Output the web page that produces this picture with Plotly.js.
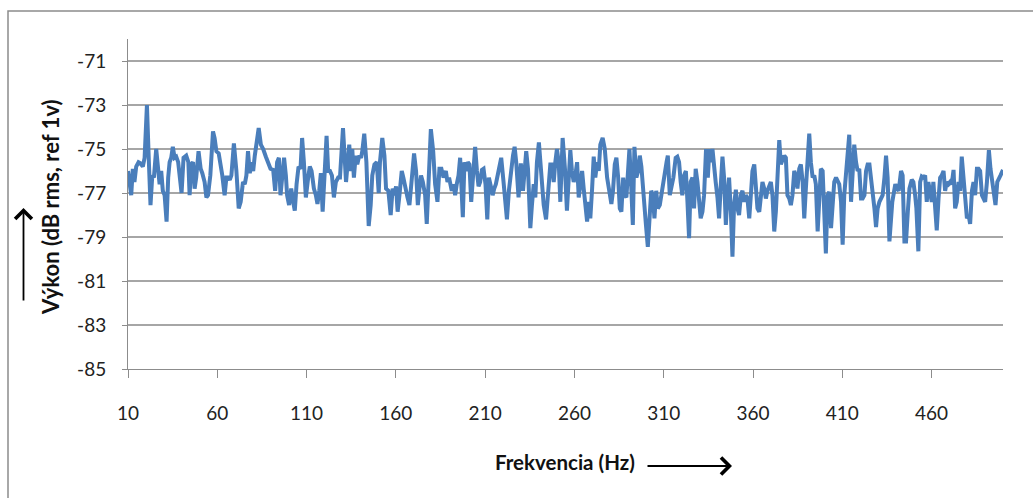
<!DOCTYPE html>
<html>
<head>
<meta charset="utf-8">
<script src="https://cdn.plot.ly/plotly-3.0.1.min.js"></script>
<style>html,body{margin:0;padding:0;background:#fff;}#chart{width:1033px;height:498px;}</style>
</head>
<body>
<div id="chart"></div>
<script>
// Frequency (Hz) of each read sample
const freq = [
10,11.8,12.7,13.6,14.6,15.9,17.0,18.3,19.3,20.6,21.7,22.6,23.6,24.5,25.8,26.7,27.7,28.6,29.5,30.5,
31.6,32.5,33.3,34.2,35.1,36.1,37.0,38.1,39.3,40.0,41.1,42.6,43.8,44.5,45.4,46.4,47.3,48.2,49.5,50.7,
51.6,52.9,53.9,54.8,56.1,57.6,58.5,59.5,60.8,61.9,62.8,64.1,65.1,66.0,67.0,67.9,
69.3,70.7,72.0,73.1,74.4,75.4,76.3,77.2,78.2,79.1,80.1,81.0,81.9,83.2,84.4,85.7,87.2,88.5,89.8,91.3,
92.4,93.5,94.5,95.4,96.5,97.4,98.4,99.1,100.2,101.4,102.5,103.4,104.4,105.5,106.6,107.5,108.5,109.6,110.9,111.8,
112.8,114.1,115.2,116.1,117.1,118.0,119.0,119.9,121.2,122.1,123.1,124.2,125.3,126.4,127.7,128.7,130.4,
132.1,133.2,133.9,134.9,135.6,136.5,137.5,138.4,139.5,140.5,141.2,142.3,143.5,144.8,145.9,146.8,148.0,149.3,150.4,151.1,
152.4,153.6,154.5,155.8,157.1,158.2,159.2,160.1,161.0,162.0,163.3,164.2,165.2,166.5,167.6,168.7,170.2,171.3,172.3,173.2,
174.1,175.1,176.4,177.3,178.2,179.6,180.9,182.0,183.3,184.4,185.5,186.7,188.0,188.9,189.8,
191.3,192.3,193.2,194.1,195.1,196.0,197.5,198.4,199.4,200.3,201.2,202.2,203.1,204.4,205.4,206.3,207.2,208.2,209.1,210.2,
211.2,212.1,213.2,214.2,215.1,216.0,217.5,219.0,220.3,221.3,222.2,223.3,224.4,225.6,226.5,227.4,228.7,230.0,231.2,232.1,
233.0,234.0,235.3,236.2,237.2,238.1,239.0,240.1,241.5,242.8,244.1,245.4,246.5,247.4,248.4,249.3,250.2,251.2,252.1,253.4,
254.7,255.8,256.8,257.7,258.6,259.6,260.5,261.5,262.4,263.3,264.3,265.2,266.1,267.1,268.0,268.9,269.9,270.8,271.7,272.7,
273.6,274.5,275.8,277.0,278.3,279.6,280.7,281.6,282.6,283.5,284.5,285.4,286.3,287.3,288.2,289.1,290.1,290.8,291.7,292.7,
293.6,294.7,295.7,296.6,297.5,298.9,300.0,301.1,302.0,303.0,303.9,304.8,305.8,306.7,307.8,309.1,310.4,311.6,312.3,313.4,
315.4,316.7,317.6,318.6,319.5,320.4,321.4,322.4,323.3,324.2,325.1,326.1,327.0,327.9,328.9,329.8,330.7,331.7,332.6,333.7,
334.7,335.6,336.5,337.3,338.2,339.1,340.1,341.0,342.0,342.9,343.8,344.8,345.7,346.6,347.6,348.5,349.4,350.4,351.3,352.2,
353.2,354.1,355.0,356.0,356.9,357.9,358.8,359.7,360.7,361.6,362.5,363.5,364.4,365.3,366.3,367.2,368.1,369.1,370.0,370.9,
371.9,372.8,373.7,374.7,375.6,
377.5,378.4,379.3,380.3,381.2,382.1,383.1,384.0,384.9,385.9,386.8,387.8,388.7,389.6,390.6,391.5,392.4,393.4,394.3,395.2,
396.2,397.1,398.0,399.0,399.9,400.8,401.8,402.7,403.7,404.6,405.5,406.5,407.4,408.3,409.3,410.2,411.1,412.1,413.0,413.9,
414.9,415.8,416.7,417.7,418.6,419.5,420.5,421.4,422.4,423.3,424.2,425.2,426.1,427.0,428.0,428.9,429.8,430.8,431.7,432.6,
433.6,434.5,435.4,436.4,
438.0,439.7,440.7,441.6,442.9,443.8,444.8,445.7,446.7,447.6,448.9,449.8,450.8,451.5,452.6,453.6,454.5,455.4,456.4,457.3,
458.2,459.2,460.1,461.0,462.0,462.9,463.9,464.8,465.7,466.7,467.6,468.5,469.5,470.4,471.3,472.3,473.2,474.1,475.1,476.0,
476.9,477.9,478.8,479.8,480.7,481.6,482.6,483.5,484.4,485.4,486.3,487.2,488.2,489.1,490.0,491.0,492.1,493.0,494.0,494.9,
495.8,496.8,497.7,498.6,500.0
];

// Power (dB rms, ref 1 V)
const power = [
-76.0,-77.1,-75.9,-76.5,-75.8,-75.6,-75.65,-75.8,-75.4,-73.0,-75.6,-77.55,-76.2,-76.3,-75.0,-75.7,-76.6,-76.0,-76.9,-77.1,
-78.3,-76.3,-75.6,-75.4,-74.9,-75.4,-75.35,-75.6,-76.3,-77.0,-75.4,-75.3,-75.6,-77.1,-75.7,-75.6,-76.8,-76.3,-75.1,-75.9,
-76.1,-76.5,-77.2,-77.1,-76.2,-74.2,-74.5,-75.1,-75.2,-75.7,-76.2,-77.1,-76.3,-76.3,-76.4,-76.2,
-74.75,-76.0,-77.7,-77.4,-76.5,-76.6,-76.2,-75.1,-76.1,-75.6,-76.0,-75.3,-74.8,-74.05,-74.8,-75.0,-75.35,-75.7,-75.9,-75.95,
-76.9,-75.6,-75.4,-77.1,-76.3,-75.4,-76.2,-77.1,-77.55,-76.8,-77.4,-77.8,-76.6,-75.8,-75.9,-74.5,-75.6,-77.2,-76.3,-75.8,
-76.0,-76.8,-77.1,-77.5,-76.9,-76.1,-77.85,-76.5,-74.4,-76.0,-76.0,-76.2,-77.2,-76.5,-76.3,-76.3,-74.05,
-76.5,-75.7,-74.8,-76.0,-75.0,-76.3,-75.3,-75.7,-75.3,-75.4,-75.1,-74.3,-75.6,-78.5,-77.55,-76.2,-75.7,-75.6,-77.0,-75.6,
-74.5,-75.3,-76.8,-76.9,-78.0,-76.8,-77.1,-76.7,-77.85,-77.1,-76.0,-76.3,-76.8,-77.2,-77.55,-76.5,-75.2,-76.0,-77.55,-76.8,
-76.2,-76.5,-77.1,-78.4,-76.8,-74.1,-75.1,-76.6,-77.4,-75.9,-75.9,-76.3,-76.0,-76.5,-76.3,
-76.9,-76.6,-77.1,-76.6,-76.2,-75.4,-78.1,-75.6,-76.0,-75.6,-75.7,-77.4,-76.2,-74.9,-76.0,-76.7,-76.5,-75.95,-75.9,-76.6,
-78.2,-76.3,-76.7,-77.1,-76.8,-76.6,-76.0,-75.4,-76.5,-77.55,-78.2,-76.9,-75.9,-75.3,-74.9,-75.6,-77.2,-75.65,-76.9,-75.6,
-75.1,-75.9,-78.6,-77.55,-76.6,-77.2,-75.6,-74.7,-76.0,-77.55,-78.2,-76.9,-75.7,-75.7,-76.5,-75.6,-75.0,-75.6,-77.4,-74.5,
-75.9,-77.8,-76.3,-75.05,-76.0,-76.5,-76.2,-75.6,-77.2,-76.6,-76.0,-76.8,-77.7,-78.3,-77.4,-78.15,-76.8,-75.35,-76.3,-75.6,
-76.0,-74.8,-74.5,-75.0,-76.3,-77.1,-77.5,-76.9,-75.7,-75.4,-76.3,-77.7,-77.85,-76.3,-77.1,-77.2,-76.0,-75.0,-76.5,-78.45,
-74.9,-76.3,-76.0,-75.3,-75.8,-77.55,-78.4,-79.45,-77.85,-76.9,-77.1,-78.15,-76.9,-77.7,-77.55,-76.8,-76.3,-75.6,-75.3,-77.1,
-76.3,-75.4,-75.35,-75.6,-76.5,-77.1,-76.2,-76.0,-77.4,-79.05,-76.5,-76.3,-77.7,-75.9,-76.5,-77.55,-78.15,-77.85,-77.1,-75.0,
-76.3,-75.0,-75.6,-75.0,-76.0,-76.5,-77.2,-78.15,-76.6,-75.35,-76.3,-78.45,-77.1,-76.3,-77.85,-79.9,-77.55,-76.85,-77.7,-78.0,
-77.1,-76.9,-77.4,-77.1,-77.25,-78.15,-77.1,-76.0,-75.7,-76.6,-77.7,-77.85,-76.9,-76.5,-76.8,-77.25,-76.9,-76.6,-76.5,-77.1,
-78.75,-77.85,-75.9,-74.6,-75.7,
-75.3,-75.4,-77.1,-77.25,-77.55,-77.1,-76.0,-76.2,-76.8,-75.9,-75.7,-76.5,-78.15,-76.8,-75.3,-74.3,-75.6,-76.3,-76.2,-76.6,
-78.75,-77.1,-75.9,-76.0,-77.55,-79.75,-77.1,-76.95,-78.6,-77.1,-76.5,-76.3,-76.5,-76.6,-77.4,-79.35,-77.1,-75.9,-75.3,-74.35,
-77.4,-76.3,-74.8,-75.6,-76.0,-75.9,-77.25,-77.25,-77.1,-76.0,-75.7,-75.7,-76.3,-77.1,-77.7,-78.55,-77.7,-77.4,-77.25,-77.1,
-76.3,-75.3,-76.3,-79.2,
-77.4,-76.6,-76.8,-76.9,-76.0,-76.2,-79.2,-79.2,-77.85,-76.8,-76.4,-76.5,-77.1,-77.7,-79.65,-76.5,-76.25,-76.3,-76.2,-77.4,
-76.5,-77.1,-77.4,-76.5,-77.55,-78.7,-77.25,-76.3,-76.2,-76.0,-76.9,-76.5,-76.6,-76.5,-76.6,-75.95,-77.7,-77.4,-76.5,-76.9,
-75.35,-76.5,-77.55,-78.15,-78.0,-78.4,-76.9,-76.5,-77.1,-75.9,-75.9,-76.0,-77.1,-77.25,-77.4,-76.5,-75.05,-75.9,-76.5,-76.9,
-77.55,-76.5,-76.3,-76.2,-75.95
];

const xTickVals = [10,60,110,160,210,260,310,360,410,460];
const xTickText = ['10','60','110','160','210','260','310','360','410','460'];
const yTickVals = [-85,-83,-81,-79,-77,-75,-73,-71];
const yTickText = ['-85','-83','-81','-79','-77','-75','-73','-71'];

const xTitle = 'Frekvencia (Hz)';
const yTitle = 'Výkon (dB rms, ref 1v)';

const FONT = 'Lato, "Open Sans", sans-serif';
const axisGrey = '#8c8c8c';

const trace = {
  x: freq, y: power, type: 'scatter', mode: 'lines',
  line: {color: '#4a7ebb', width: 4, shape: 'linear'},
  hoverinfo: 'x+y'
};

// plot area: left 128px, width 875px, top 39px, height 330px
const L = 128, W = 875, T = 39, H = 330;
const px = v => (v - L) / W;
const py = v => (T + H - v) / H;

const layout = {
  width: 1033, height: 498,
  margin: {l: L, r: 1033 - L - W, t: T, b: 498 - T - H, pad: 0},
  paper_bgcolor: '#ffffff', plot_bgcolor: '#ffffff',
  showlegend: false,
  font: {family: FONT, size: 19, color: '#222222'},
  xaxis: {
    range: [10, 500], tickmode: 'array', tickvals: xTickVals, ticktext: xTickText,
    ticks: 'outside', ticklen: 8, tickwidth: 1, tickcolor: axisGrey,
    showline: true, linecolor: axisGrey, linewidth: 1,
    showgrid: false, zeroline: false, fixedrange: true,
    tickfont: {family: FONT, size: 19, color: '#222222'},
    ticklabelstandoff: 19
  },
  yaxis: {
    range: [-85, -70], tickmode: 'array', tickvals: yTickVals, ticktext: yTickText,
    ticks: 'outside', ticklen: 5, tickwidth: 1, tickcolor: axisGrey,
    showline: true, linecolor: axisGrey, linewidth: 1,
    showgrid: true, gridcolor: '#a6a6a6', gridwidth: 1.3, zeroline: false, fixedrange: true,
    tickfont: {family: FONT, size: 19, color: '#222222'},
    ticklabelstandoff: 12
  },
  shapes: [
    {type: 'rect', xref: 'paper', yref: 'paper', x0: px(8), x1: 1.2, y0: -1, y1: py(11),
     line: {color: '#8c8c8c', width: 1.5}, fillcolor: 'rgba(0,0,0,0)', layer: 'below'}
  ],
  annotations: [
    {text: '<b>' + yTitle + '</b>', xref: 'paper', yref: 'paper', x: px(51), y: py(207),
     xanchor: 'center', yanchor: 'middle', textangle: -90, showarrow: false,
     font: {family: FONT, size: 22, color: '#111111'}},
    {text: '<b>' + xTitle + '</b>', xref: 'paper', yref: 'paper', x: px(565), y: py(462),
     xanchor: 'center', yanchor: 'middle', showarrow: false,
     font: {family: FONT, size: 20.5, color: '#111111'}},
    {text: '', xref: 'paper', yref: 'paper', x: px(732), y: py(466), ax: -86, ay: 0,
     showarrow: true, arrowhead: 4, arrowsize: 1.8, arrowwidth: 1.8, arrowcolor: '#000000', standoff: 0, startstandoff: 0},
    {text: '', xref: 'paper', yref: 'paper', x: px(23.5), y: py(208), ax: 0, ay: 94,
     showarrow: true, arrowhead: 4, arrowsize: 1.8, arrowwidth: 1.8, arrowcolor: '#000000', standoff: 0, startstandoff: 0}
  ]
};

Plotly.newPlot('chart', [trace], layout, {displayModeBar: false, staticPlot: true});
</script>
</body>
</html>
